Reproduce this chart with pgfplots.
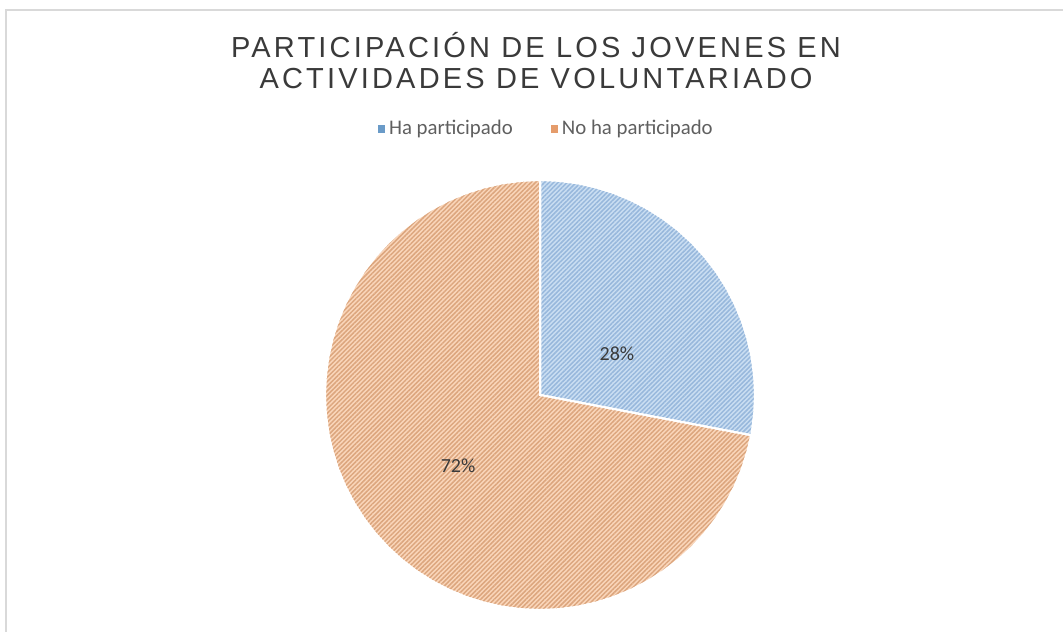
\documentclass[border=0pt]{standalone}
\usepackage{pgfplots}
\pgfplotsset{compat=1.18}
\usepgfplotslibrary{polar}
\usetikzlibrary{patterns.meta}
\usepackage{fontspec}
\setmainfont{Carlito}
\newfontfamily\titlefont[LetterSpace=11]{Liberation Sans}

\definecolor{bluefill}{HTML}{CADEF2}
\definecolor{blueline}{HTML}{98B8DC}
\definecolor{orangefill}{HTML}{FAD6BA}
\definecolor{orangeline}{HTML}{DCA67E}
\definecolor{legblue}{HTML}{6A9BC8}
\definecolor{legorange}{HTML}{E59C6B}
\definecolor{titlegray}{HTML}{3A3A3A}
\definecolor{textgray}{HTML}{5F5F5F}
\definecolor{framegray}{HTML}{D9D9D9}

% shares: Ha participado 28 %, No ha participado 72 %
% slices start at 12 o'clock and run clockwise; 28 % -> 100.8 deg, ends at -10.8 deg
\begin{document}
\begin{tikzpicture}
\path[use as bounding box] (0,0) rectangle (531.5bp,316bp);
\draw[framegray, line width=0.8bp] (3bp,0) -- (3bp,311bp) -- (531.5bp,311bp);

\node[anchor=base, text=titlegray, font=\titlefont\fontsize{14.5bp}{16bp}\selectfont] at (268bp,287bp) {PARTICIPACIÓN DE LOS JOVENES EN};
\node[anchor=base, text=titlegray, font=\titlefont\fontsize{14.5bp}{16bp}\selectfont] at (268bp,271.5bp) {ACTIVIDADES DE VOLUNTARIADO};

\begin{axis}[
    at={(270bp,118.5bp)}, anchor=center,
    x=107.5bp, y=107.5bp,
    xmin=-1, xmax=1, ymin=-1, ymax=1,
    hide axis, clip=false,
    legend columns=2,
    legend style={at={(0.517,1.1186)}, anchor=center, draw=none, fill=none,
        font=\fontsize{10.4bp}{12bp}\selectfont, text=textgray,
        /tikz/every even column/.append style={column sep=17bp},
        /tikz/every odd column/.append style={column sep=0bp}},
]
\addlegendimage{legend image code/.code={\fill[legblue] (0bp,-1.6bp) rectangle (3.2bp,1.6bp);}}
\addlegendentry{Ha participado}
\addlegendimage{legend image code/.code={\fill[legorange] (0bp,-1.6bp) rectangle (3.2bp,1.6bp);}}
\addlegendentry{No ha participado}

% Ha participado (28 %)
\addplot[forget plot, data cs=polar, draw=white, line width=1bp, fill=bluefill,
    postaction={pattern={Lines[angle=45, distance=1.6bp, line width=0.75bp]}, pattern color=blueline}]
coordinates {(0,0) (90,1) (85,1) (80,1) (75,1) (70,1) (65,1) (60,1) (55,1) (50,1)
    (45,1) (40,1) (35,1) (30,1) (25,1) (20,1) (15,1) (10,1) (5,1) (0,1) (-5,1)
    (-10,1) (-10.8,1) (0,0)} --cycle;

% No ha participado (72 %)
\addplot[forget plot, data cs=polar, draw=white, line width=1bp, fill=orangefill,
    postaction={pattern={Lines[angle=45, distance=1.6bp, line width=0.75bp]}, pattern color=orangeline}]
coordinates {(0,0) (-10.8,1) (-15,1) (-20,1) (-25,1) (-30,1) (-35,1) (-40,1) (-45,1)
    (-50,1) (-55,1) (-60,1) (-65,1) (-70,1) (-75,1) (-80,1) (-85,1) (-90,1) (-95,1)
    (-100,1) (-105,1) (-110,1) (-115,1) (-120,1) (-125,1) (-130,1) (-135,1) (-140,1)
    (-145,1) (-150,1) (-155,1) (-160,1) (-165,1) (-170,1) (-175,1) (-180,1) (-185,1)
    (-190,1) (-195,1) (-200,1) (-205,1) (-210,1) (-215,1) (-220,1) (-225,1) (-230,1)
    (-235,1) (-240,1) (-245,1) (-250,1) (-255,1) (-260,1) (-265,1) (-270,1) (0,0)} --cycle;

\node[text=titlegray, font=\fontsize{10bp}{12bp}\selectfont] at (axis cs:0.358,0.191) {28\%};
\node[text=titlegray, font=\fontsize{10bp}{12bp}\selectfont] at (axis cs:-0.381,-0.330) {72\%};
\end{axis}
\end{tikzpicture}
\end{document}
